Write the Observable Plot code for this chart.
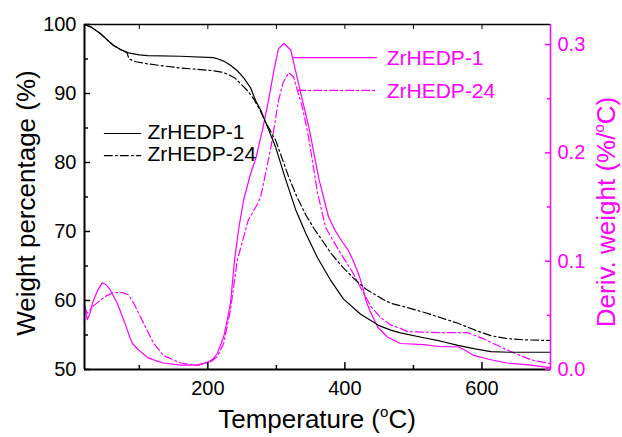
<!DOCTYPE html>
<html><head><meta charset="utf-8">
<script src="https://cdn.jsdelivr.net/npm/d3@7"></script>
<script src="https://cdn.jsdelivr.net/npm/@observablehq/plot@0.6"></script>
<style>
body{margin:0;background:#fff;}
#chart{width:622px;height:437px;}
</style></head><body><div id="chart"></div>
<script>
// ---- data ----
const temp1   = [20,30,43,55,62,72,84,100,112,160,208,215,223,233,243,252,262,270,277,284,299,313,328,343,360,380,398,423,449,467,481,515,540,565,590,613,640,661,700];
const weight1 = [100,99.6,98.7,97.6,97.0,96.4,95.9,95.6,95.5,95.4,95.2,95.0,94.7,94.1,93.3,92.3,90.9,88.9,87.6,85.9,82.2,77.7,73.2,69.7,66.2,62.8,60.2,58.0,56.4,55.7,55.3,54.6,54.1,53.5,53.0,52.6,52.5,52.5,52.5];

const temp24   = [20,30,43,55,62,72,82,85,95,112,135,160,185,208,220,229,240,248,258,267,276,284,299,318,330,343,355,367,380,397,415,430,455,467,490,515,540,565,590,613,635,661,700];
const weight24 = [100,99.6,98.7,97.6,97.0,96.4,95.9,95.0,94.6,94.3,94.0,93.7,93.5,93.3,93.1,92.8,92.2,91.4,90.4,89.2,87.6,85.9,83.2,77.9,75.0,72.4,70.4,68.7,66.8,64.8,63.0,61.7,60.2,59.6,59.0,58.3,57.5,56.7,55.7,54.9,54.5,54.3,54.2];

const dtemp1 = [20,22,24,28,33,40,46,52,58,68,80,86,90,99,112,125,135,160,185,201,208,214,223,228,233,239,245,252,262,270,280,289,296,303,311,321,333,348,362,376,386,397,405,413,420,426,431,436,448,462,481,515,540,565,575,588,613,637,671,696,700];
const deriv1 = [0.061,0.052,0.046,0.052,0.064,0.074,0.080,0.078,0.073,0.061,0.041,0.030,0.024,0.018,0.011,0.008,0.006,0.004,0.004,0.007,0.010,0.015,0.030,0.045,0.061,0.101,0.130,0.156,0.180,0.195,0.222,0.250,0.275,0.296,0.301,0.295,0.262,0.222,0.176,0.141,0.128,0.117,0.110,0.099,0.088,0.076,0.063,0.055,0.039,0.030,0.024,0.023,0.021,0.021,0.018,0.013,0.009,0.006,0.004,0.002,0.002];

const dtemp24 = [20,24,32,43,52,62,75,84,92,106,121,135,160,185,204,214,223,233,243,259,270,277,292,303,310,318,325,338,346,352,360,372,391,411,426,438,452,467,481,491,540,579,600,613,637,671,696,700];
const deriv24 = [0.058,0.052,0.058,0.064,0.068,0.071,0.071,0.069,0.061,0.043,0.024,0.013,0.006,0.004,0.007,0.012,0.024,0.055,0.101,0.138,0.150,0.159,0.205,0.248,0.265,0.274,0.270,0.242,0.218,0.195,0.163,0.131,0.110,0.090,0.072,0.058,0.048,0.041,0.038,0.035,0.034,0.034,0.029,0.025,0.018,0.009,0.006,0.005];

const seriesNames = ["ZrHEDP-1", "ZrHEDP-24"];
const xMajor = [200, 400, 600];
const xMinor = [100, 300, 500];
const xTop = [100, 200, 300, 400, 500, 600];
const yMajor = [50, 60, 70, 80, 90, 100];
const yMinor = [55, 65, 75, 85, 95];
const dMajor = [0.0, 0.1, 0.2, 0.3];
const dMinor = [0.05, 0.15, 0.25];

// legend / annotation anchors (data units)
const blackLegendX = [49, 102];
const blackLegendY = [84.2, 81.0];
const blackLegendTextX = 112;
const magLine1X = [324, 446], magLine1D = 0.288;
const magLine2X = [331, 447], magLine2D = 0.2576;
const magTextX = 461;

// ---- helpers ----
const MAG = "#ff00ff";
const DASH = "8,3,2,3";
const DMAX = 0.3185;
const toW = d => 50 + d / DMAX * 50;
const fromW = w => (w - 50) * DMAX / 50;
const zip = (xs, ys) => xs.map((t, i) => ({t, v: ys[i]}));

const w1 = zip(temp1, weight1);
const w24 = zip(temp24, weight24);
const d1 = zip(dtemp1, deriv1);
const d24 = zip(dtemp24, deriv24);

const blackLeg = [
  ...blackLegendX.map(t => ({t, v: blackLegendY[0], s: seriesNames[0]})),
  ...blackLegendX.map(t => ({t, v: blackLegendY[1], s: seriesNames[1]}))
];
const magLeg1 = magLine1X.map(t => ({t, v: toW(magLine1D)}));
const magLeg2 = magLine2X.map(t => ({t, v: toW(magLine2D)}));

const FONT = "Liberation Sans, Arial, sans-serif";
const TICKFS = 20;

const plot = Plot.plot({
  width: 622, height: 437,
  marginLeft: 84, marginRight: 72, marginTop: 24, marginBottom: 68,
  style: {fontFamily: FONT, fontSize: TICKFS + "px", background: "#fff", overflow: "visible"},
  x: {domain: [20, 700]},
  y: {domain: [50, 100]},
  marks: [
    // curves
    Plot.line(d1, {x: "t", y: d => toW(d.v), stroke: MAG, strokeWidth: 1.2}),
    Plot.line(d24, {x: "t", y: d => toW(d.v), stroke: MAG, strokeWidth: 1.2, strokeDasharray: DASH}),
    Plot.line(w1, {x: "t", y: "v", stroke: "black", strokeWidth: 1.2}),
    Plot.line(w24, {x: "t", y: "v", stroke: "black", strokeWidth: 1.2, strokeDasharray: DASH}),
    // black legend
    Plot.line(blackLeg.filter(d => d.s === seriesNames[0]), {x: "t", y: "v", stroke: "black", strokeWidth: 1.2}),
    Plot.line(blackLeg.filter(d => d.s === seriesNames[1]), {x: "t", y: "v", stroke: "black", strokeWidth: 1.2, strokeDasharray: DASH}),
    Plot.text(seriesNames, {x: blackLegendTextX, y: (d, i) => blackLegendY[i], text: d => d, textAnchor: "start", fill: "black", fontSize: 21, dy: -1}),
    // magenta annotation
    Plot.line(magLeg1, {x: "t", y: "v", stroke: MAG, strokeWidth: 1.2}),
    Plot.line(magLeg2, {x: "t", y: "v", stroke: MAG, strokeWidth: 1.2, strokeDasharray: DASH}),
    Plot.text(seriesNames, {x: magTextX, y: (d, i) => toW([magLine1D, magLine2D][i]), text: d => d, textAnchor: "start", fill: MAG, fontSize: 21, dy: 1}),
    // frame
    Plot.ruleY([100], {stroke: "black", strokeWidth: 1.5}),
    Plot.ruleX([700], {stroke: MAG, strokeWidth: 1.5}),
    Plot.ruleX([20], {stroke: "black", strokeWidth: 2}),
    Plot.ruleY([50], {stroke: "black", strokeWidth: 2}),
    // axes
    Plot.axisX(xMajor, {anchor: "bottom", tickSize: -7, tickPadding: 18, label: null, fill: "black", stroke: "black", strokeWidth: 1.5}),
    Plot.axisX(xMinor, {anchor: "bottom", tickSize: -4, tickFormat: () => "", label: null, strokeWidth: 1.5}),
    Plot.axisX(xTop, {anchor: "top", tickSize: -4, tickFormat: () => "", label: null, strokeWidth: 1}),
    Plot.axisY(yMajor, {anchor: "left", tickSize: -6, tickPadding: 14, label: null, strokeWidth: 1.5}),
    Plot.axisY(yMinor, {anchor: "left", tickSize: -4, tickFormat: () => "", label: null, strokeWidth: 1.5}),
    Plot.axisY(dMajor.map(toW), {anchor: "right", tickSize: -6, tickPadding: 13, label: null, stroke: MAG, fill: MAG, strokeWidth: 1.5, tickFormat: w => fromW(w).toFixed(1)}),
    Plot.axisY(dMinor.map(toW), {anchor: "right", tickSize: -4, tickFormat: () => "", label: null, stroke: MAG, strokeWidth: 1.5})
  ]
});

document.getElementById("chart").appendChild(plot);

// axis titles
const svg = d3.select(plot);
const t1 = svg.append("text")
  .attr("x", 317).attr("y", 428)
  .attr("text-anchor", "middle")
  .style("font-family", FONT).style("font-size", "26px").attr("fill", "black");
t1.append("tspan").text("Temperature (");
t1.append("tspan").attr("dy", -11).style("font-size", "15px").text("o");
t1.append("tspan").attr("dy", 11).text("C)");

svg.append("text")
  .attr("transform", "translate(35,203) rotate(-90)")
  .attr("text-anchor", "middle")
  .style("font-family", FONT).style("font-size", "26px").attr("fill", "black")
  .text("Weight percentage (%)");

const t3 = svg.append("text")
  .attr("transform", "translate(615,212) rotate(-90)")
  .attr("text-anchor", "middle")
  .style("font-family", FONT).style("font-size", "26px").attr("fill", MAG);
t3.append("tspan").text("Deriv. weight (%/");
t3.append("tspan").attr("dy", -11).style("font-size", "15px").text("o");
t3.append("tspan").attr("dy", 11).text("C)");
</script>
</body></html>
